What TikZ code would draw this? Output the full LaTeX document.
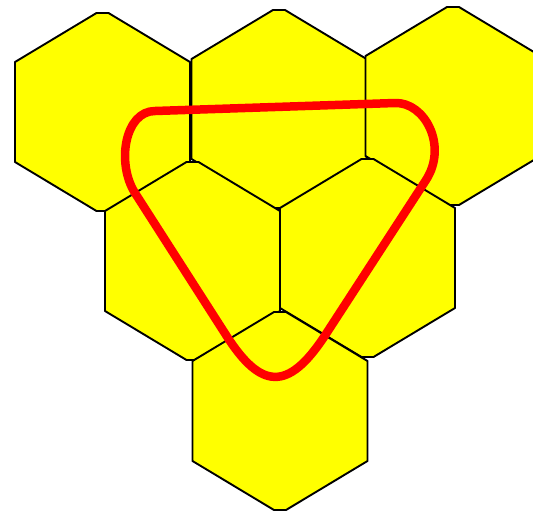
\documentclass[tikz,border=0pt]{standalone}
\begin{document}
\begin{tikzpicture}[x=1pt,y=-1pt,
  hex/.style={fill={rgb,255:red,255;green,255;blue,0},draw=black,line width=1.9pt,line join=round},
  loop/.style={draw={rgb,255:red,255;green,0;blue,0},line width=8.5pt,line join=round}]
\useasboundingbox (0,0) rectangle (533,512);
\clip (0,0) rectangle (533,512);
\newcommand\myhex[2]{%
  \draw[hex] ({#1-6},{#2-99}) -- ({#1+6},{#2-99}) -- ({#1+87.5},{#2-50}) -- ({#1+87.5},{#2+50})
    -- ({#1+6},{#2+99}) -- ({#1-6},{#2+99}) -- ({#1-87.5},{#2+50}) -- ({#1-87.5},{#2-50}) -- cycle;}
\myhex{102.5}{112}
\myhex{279}{109}
\myhex{453}{106}
\myhex{192.5}{261}
\myhex{367.5}{258}
\myhex{280}{411}
\coordinate (t1) at (155,111);
\coordinate (t2) at (395,103);
\coordinate (r1) at (426,180);
\coordinate (r2) at (324,337);
\coordinate (l2) at (226,335);
\coordinate (l1) at (135,193);
\draw[loop] (t1) -- (t2) .. controls (425,102) and (448,146) .. (r1)
  -- (r2) .. controls (288,391) and (261,390) .. (l2)
  -- (l1) .. controls (116,163) and (125,111) .. (t1) -- cycle;
\end{tikzpicture}
\end{document}
